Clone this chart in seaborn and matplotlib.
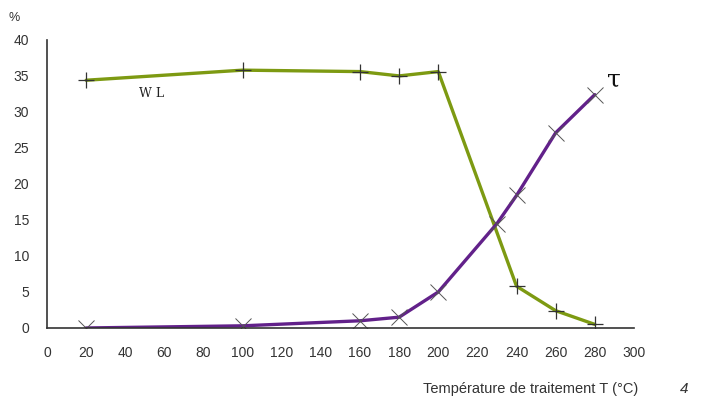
import matplotlib
matplotlib.use("Agg")
import matplotlib.pyplot as plt
import seaborn as sns

# heat treatment temperatures (°C) and measured values (%)
wl_temp = [20, 100, 160, 180, 200, 240, 260, 280]
wl_values = [34.4, 35.8, 35.6, 35.0, 35.6, 5.8, 2.4, 0.5]

tau_temp = [20, 100, 160, 180, 200, 230, 240, 260, 280]
tau_values = [0.0, 0.3, 1.0, 1.5, 5.0, 14.5, 18.4, 27.1, 32.4]

x_ticks = list(range(0, 301, 20))
y_ticks = list(range(0, 41, 5))

green = "#7d9a12"
purple = "#62218a"

sns.set_style("white")
plt.rcParams["font.family"] = ["Liberation Sans", "DejaVu Sans"]

fig = plt.figure(figsize=(7.02, 3.99), dpi=100)
ax = fig.add_axes([0.067, 0.178, 0.836, 0.722])

sns.lineplot(x=wl_temp, y=wl_values, ax=ax, color=green, lw=2.4,
             marker="+", markersize=12, markeredgecolor="#333333",
             markeredgewidth=0.9)
sns.lineplot(x=tau_temp, y=tau_values, ax=ax, color=purple, lw=2.4,
             marker="x", markersize=11, markeredgecolor="#555555",
             markeredgewidth=0.7)

ax.set_xlim(0, 300)
ax.set_ylim(0, 40)
ax.set_xticks(x_ticks)
ax.set_yticks(y_ticks)
ax.tick_params(axis="both", direction="out", length=5, width=1,
               color="#333333", labelsize=10, labelcolor="#333333", pad=8)
sns.despine(ax=ax)
for side in ["left", "bottom"]:
    ax.spines[side].set_color("#333333")
    ax.spines[side].set_linewidth(1.2)

ax.text(-0.066, 1.065, "%", transform=ax.transAxes, fontsize=9, color="#333333")
ax.text(47, 32.6, "W L", fontsize=9, family="DejaVu Serif", color="#222222",
        ha="left", va="center")
ax.text(286, 34.4, "τ", fontsize=18, family="DejaVu Serif", color="#111111",
        ha="left", va="center")

fig.text(0.602, 0.014, "Température de traitement T (°C)", fontsize=10.5,
         color="#333333")
fig.text(0.968, 0.014, "4", fontsize=11, style="italic", color="#333333")

fig.savefig("out.png", dpi=100)
